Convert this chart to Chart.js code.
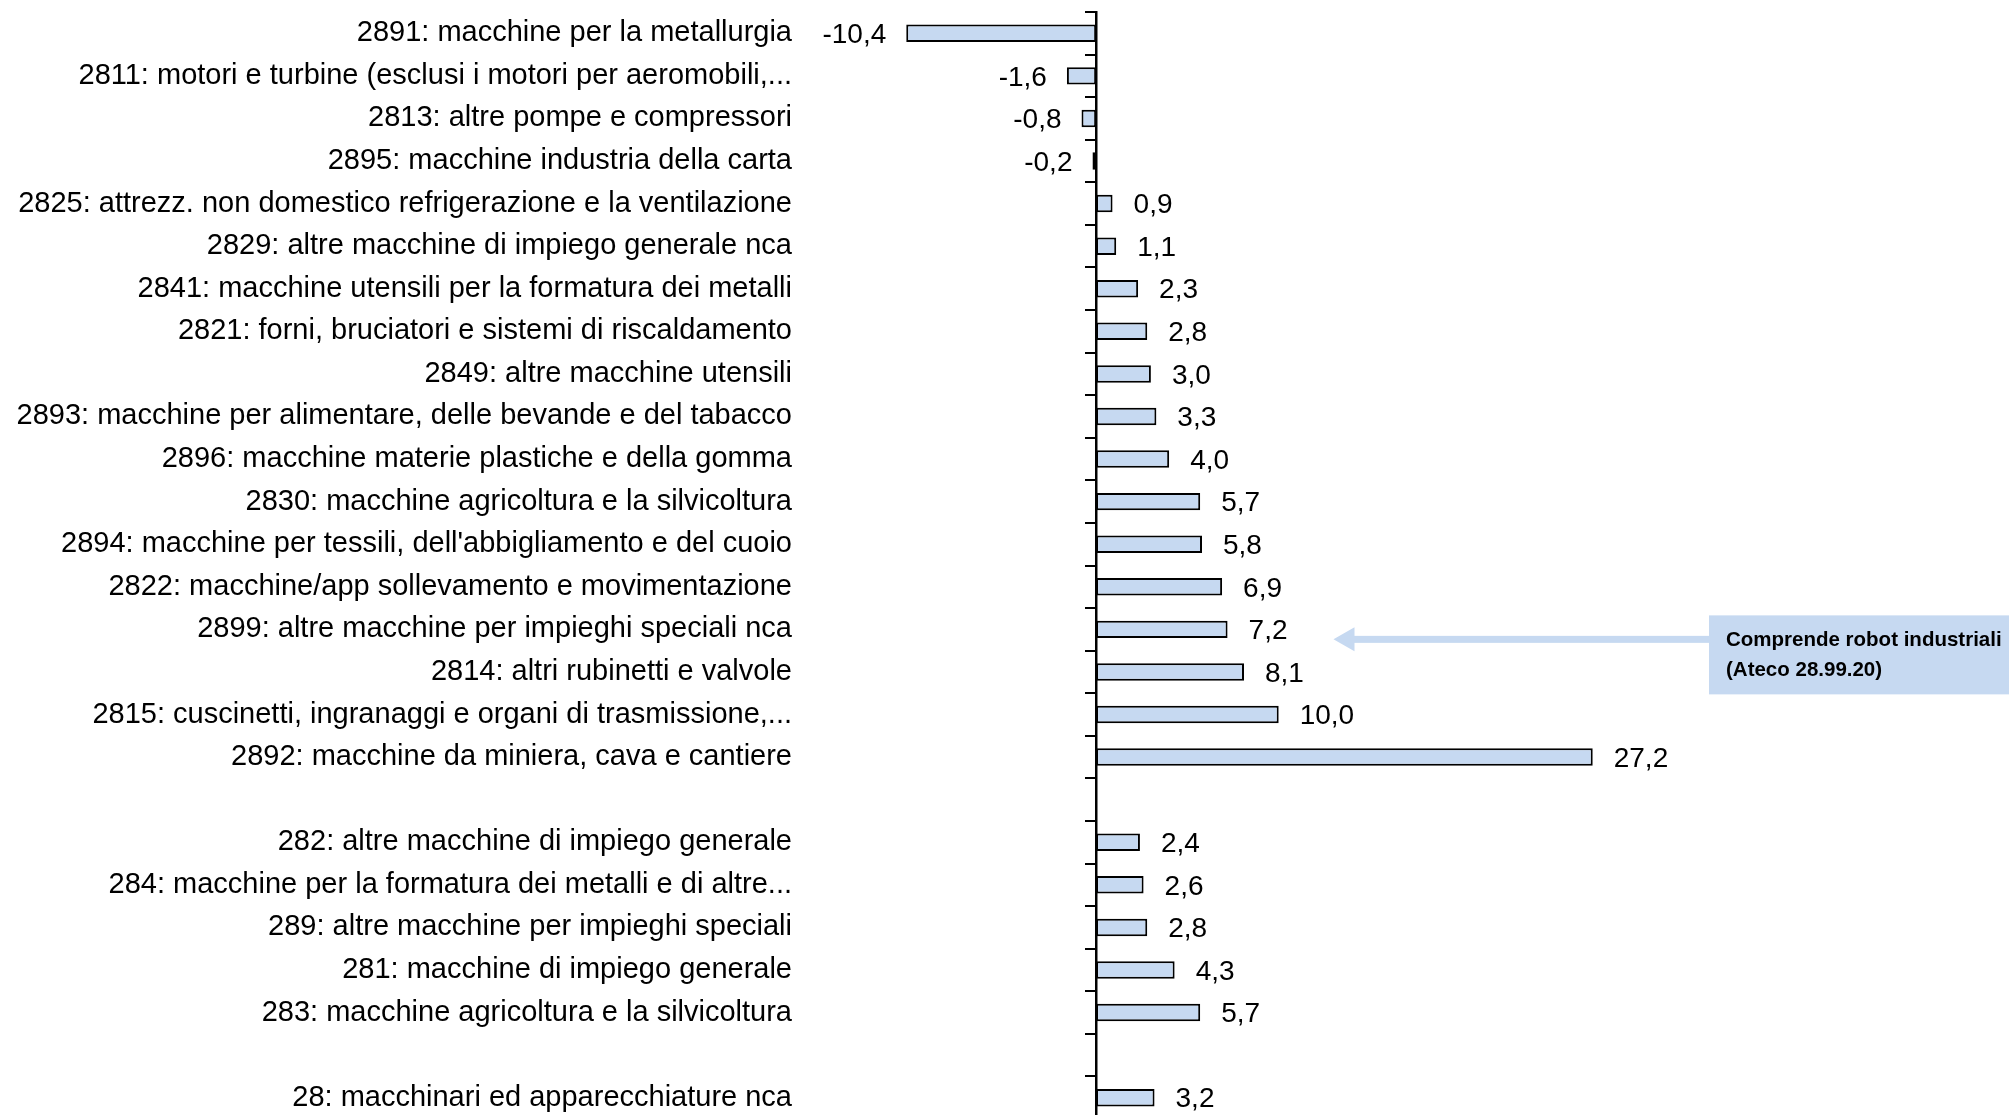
<!DOCTYPE html>
<html>
<head>
<meta charset="utf-8">
<script src="https://cdn.jsdelivr.net/npm/chart.js@4/dist/chart.umd.min.js"></script>
<style>
    html, body { margin: 0; padding: 0; overflow: hidden; background: #fff; }
    .wrap { position: relative; width: 2009px; height: 1124px; }
</style>
</head>
<body>
<div class="wrap"><canvas id="grafico"></canvas></div>
<script>
const categorie = [
    '2891: macchine per la metallurgia',
    '2811: motori e turbine (esclusi i motori per aeromobili,...',
    '2813: altre pompe e compressori',
    '2895: macchine industria della carta',
    '2825: attrezz. non domestico refrigerazione e la ventilazione',
    '2829: altre macchine di impiego generale nca',
    '2841: macchine utensili per la formatura dei metalli',
    '2821: forni, bruciatori e sistemi di riscaldamento',
    '2849: altre macchine utensili',
    '2893: macchine per alimentare, delle bevande e del tabacco',
    '2896: macchine materie plastiche e della gomma',
    '2830: macchine agricoltura e la silvicoltura',
    "2894: macchine per tessili, dell'abbigliamento e del cuoio",
    '2822: macchine/app sollevamento e movimentazione',
    '2899: altre macchine per impieghi speciali nca',
    '2814: altri rubinetti e valvole',
    '2815: cuscinetti, ingranaggi e organi di trasmissione,...',
    '2892: macchine da miniera, cava e cantiere',
    '',
    '282: altre macchine di impiego generale',
    '284: macchine per la formatura dei metalli e di altre...',
    '289: altre macchine per impieghi speciali',
    '281: macchine di impiego generale',
    '283: macchine agricoltura e la silvicoltura',
    '',
    '28: macchinari ed apparecchiature nca'
];

const variazioni = [
    -10.4, -1.6, -0.8, -0.2, 0.9, 1.1, 2.3, 2.8, 3.0, 3.3, 4.0, 5.7, 5.8, 6.9, 7.2, 8.1, 10.0, 27.2,
    null,
    2.4, 2.6, 2.8, 4.3, 5.7,
    null,
    3.2
];

const notaTesto = ['Comprende robot industriali', '(Ateco 28.99.20)'];
const notaCategoria = 14; // 2899

const font = "'Liberation Sans', Arial, sans-serif";
const azzurro = '#c6d9f1';

// etichette dei valori accanto alle barre
const etichetteValori = {
    id: 'etichetteValori',
    afterDatasetsDraw(chart) {
        const ctx = chart.ctx;
        const meta = chart.getDatasetMeta(0);
        ctx.save();
        ctx.font = '28px ' + font;
        ctx.fillStyle = '#000';
        ctx.textBaseline = 'middle';
        meta.data.forEach((bar, i) => {
            const v = variazioni[i];
            if (v === null) return;
            const testo = v.toFixed(1).replace('.', ',');
            if (v < 0) {
                ctx.textAlign = 'right';
                ctx.fillText(testo, bar.x - 20, bar.y + 2);
            } else {
                ctx.textAlign = 'left';
                ctx.fillText(testo, bar.x + 21, bar.y + 2);
            }
        });
        ctx.restore();
    }
};

// riquadro con freccia
const nota = {
    id: 'nota',
    afterDraw(chart) {
        const ctx = chart.ctx;
        const yc = chart.scales.y.getPixelForValue(notaCategoria) + 10;
        const punta = chart.scales.x.getPixelForValue(13.0);
        const boxX = 1709;
        ctx.save();
        ctx.fillStyle = azzurro;
        ctx.fillRect(punta + 20, yc - 3.5, boxX - punta - 20, 7);
        ctx.beginPath();
        ctx.moveTo(punta, yc);
        ctx.lineTo(punta + 21, yc - 12);
        ctx.lineTo(punta + 21, yc + 12);
        ctx.closePath();
        ctx.fill();
        ctx.fillRect(boxX, yc - 24, chart.width - boxX, 79);
        ctx.fillStyle = '#000';
        ctx.font = 'bold 20.5px ' + font;
        ctx.textAlign = 'left';
        ctx.textBaseline = 'middle';
        ctx.fillText(notaTesto[0], boxX + 17, yc + 1);
        ctx.fillText(notaTesto[1], boxX + 17, yc + 31);
        ctx.restore();
    }
};

new Chart(document.getElementById('grafico'), {
    type: 'bar',
    data: {
        labels: categorie,
        datasets: [{
            data: variazioni,
            backgroundColor: azzurro,
            borderColor: '#000',
            borderWidth: 2,
            borderSkipped: false,
            barPercentage: 0.41,
            categoryPercentage: 1,
            yAxisID: 'y'
        }]
    },
    options: {
        indexAxis: 'y',
        responsive: true,
        maintainAspectRatio: false,
        animation: false,
        layout: { padding: { top: 12, bottom: 5, left: 0, right: 0 } },
        plugins: {
            legend: { display: false },
            tooltip: { enabled: false }
        },
        scales: {
            x: {
                type: 'linear',
                min: -16,
                max: 50,
                display: false
            },
            y: {
                type: 'category',
                position: 'left',
                offset: true,
                grid: { display: false, drawTicks: false },
                border: { display: false },
                ticks: {
                    color: '#000',
                    padding: 12,
                    autoSkip: false,
                    font: { size: 29, family: font }
                },
                afterFit(s) {
                    s.width = 804;
                    s.paddingTop = 0;
                    s.paddingBottom = 0;
                }
            },
            asse: {
                type: 'category',
                axis: 'y',
                position: { x: 0 },
                offset: true,
                grid: {
                    offset: true,
                    drawOnChartArea: false,
                    drawTicks: true,
                    tickLength: 10,
                    color: '#000',
                    lineWidth: 2
                },
                border: { display: true, color: '#000', width: 2.5 },
                ticks: { display: false, autoSkip: false }
            }
        }
    },
    plugins: [etichetteValori, nota]
});
</script>
</body>
</html>
